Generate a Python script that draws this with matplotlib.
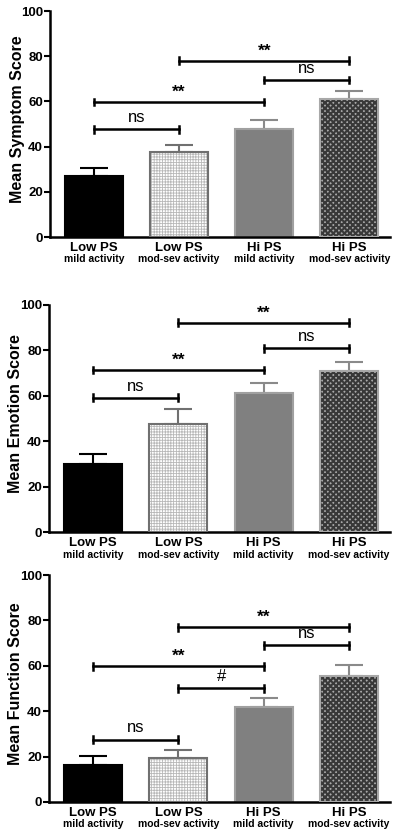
import numpy as np
import matplotlib.pyplot as plt
import matplotlib.transforms as mtransforms

plt.rcParams['font.family'] = ['Liberation Sans', 'DejaVu Sans']

groups = ["Low PS", "Low PS", "Hi PS", "Hi PS"]
subgroups = ["mild activity", "mod-sev activity", "mild activity", "mod-sev activity"]

symptom_mean = [26.8, 37.6, 47.8, 60.9]
symptom_err = [3.7, 3.3, 3.8, 3.7]
emotion_mean = [30.0, 47.6, 61.4, 71.0]
emotion_err = [4.3, 6.6, 4.1, 4.0]
function_mean = [16.3, 19.3, 41.9, 55.6]
function_err = [4.0, 3.8, 4.1, 4.7]

# comparisons: (from bar, to bar, height, label)
symptom_sig = [(0, 1, 47.6, "ns"), (0, 2, 59.7, "**"), (2, 3, 69.5, "ns"), (1, 3, 78.0, "**")]
emotion_sig = [(0, 1, 59.2, "ns"), (0, 2, 71.4, "**"), (2, 3, 81.0, "ns"), (1, 3, 92.2, "**")]
function_sig = [(0, 1, 27.5, "ns"), (1, 2, 50.0, "#"), (0, 2, 59.7, "**"),
                (2, 3, 69.0, "ns"), (1, 3, 76.9, "**")]

panels = [
    ("Mean Symptom Score", symptom_mean, symptom_err, symptom_sig, [0.1244, 0.7165, 0.846, 0.2703]),
    ("Mean Emotion Score", emotion_mean, emotion_err, emotion_sig, [0.1220, 0.3636, 0.848, 0.2716]),
    ("Mean Function Score", function_mean, function_err, function_sig, [0.1220, 0.0407, 0.848, 0.2715]),
]

faces = ["black", "white", "#808080", "#a8a8a8"]
edges = ["black", "#707070", "#a0a0a0", "#a8a8a8"]
hatches = [None, "++++++", None, "xxxxxx"]
hatch_cols = [None, "#b8b8b8", None, "#383838"]
hatch_lws = [None, 0.6, None, 1.5]
errcols = ["black", "#707070", "#8a8a8a", "#8a8a8a"]

fig = plt.figure(figsize=(4.02, 8.36), dpi=100)
x = np.arange(4)

for ylabel, means, errs, sigs, pos in panels:
    ax = fig.add_axes(pos)
    for i in range(4):
        if hatches[i]:
            # hatch follows the edge colour, so draw fill+hatch then the outline
            plt.rcParams['hatch.linewidth'] = hatch_lws[i]
            ax.bar(x[i], means[i], width=0.68, color=faces[i], edgecolor=hatch_cols[i],
                   hatch=hatches[i], linewidth=0, zorder=2)
            ax.bar(x[i], means[i], width=0.68, fill=False, edgecolor=edges[i],
                   linewidth=1.5, zorder=3)
        else:
            ax.bar(x[i], means[i], width=0.68, color=faces[i], edgecolor=edges[i],
                   linewidth=1.5, zorder=2)
        ax.errorbar(x[i], means[i], yerr=[[0], [errs[i]]], fmt='none',
                    ecolor=errcols[i], elinewidth=1.5, capsize=10, capthick=1.5, zorder=1)

    for a, b, h, lab in sigs:
        ax.plot([x[a], x[b]], [h, h], color='black', lw=1.8)
        ax.plot([x[a], x[a]], [h - 1.5, h + 1.5], color='black', lw=1.8)
        ax.plot([x[b], x[b]], [h - 1.5, h + 1.5], color='black', lw=1.8)
        if lab == "**":
            ax.text((x[a] + x[b]) / 2, h + 1.0, lab, ha='center', va='bottom',
                    fontsize=12.5, fontweight='bold')
        else:
            ax.text((x[a] + x[b]) / 2, h + 1.8, lab, ha='center', va='bottom',
                    fontsize=12)

    ax.set_xlim(-0.518, 3.48)
    ax.set_ylim(0, 100)
    ax.set_yticks([0, 20, 40, 60, 80, 100])
    ax.set_xticks([])
    for lbl in ax.get_yticklabels():
        lbl.set_fontweight('bold')
    ax.tick_params(axis='y', labelsize=9.5, width=1.5, length=4, pad=1)
    ax.spines['top'].set_visible(False)
    ax.spines['right'].set_visible(False)
    ax.spines['left'].set_linewidth(1.8)
    ax.spines['bottom'].set_linewidth(1.8)
    ax.set_ylabel(ylabel, fontsize=11.5, fontweight='bold')
    ax.yaxis.set_label_coords(-0.075, 0.52)

    trans = mtransforms.blended_transform_factory(ax.transData, ax.transAxes)
    for i in range(4):
        ax.text(x[i], -0.022, groups[i], transform=trans, ha='center', va='top',
                fontsize=9.5, fontweight='bold')
        ax.text(x[i], -0.077, subgroups[i], transform=trans, ha='center', va='top',
                fontsize=7.5, fontweight='bold')

fig.savefig("out.png", dpi=100)
